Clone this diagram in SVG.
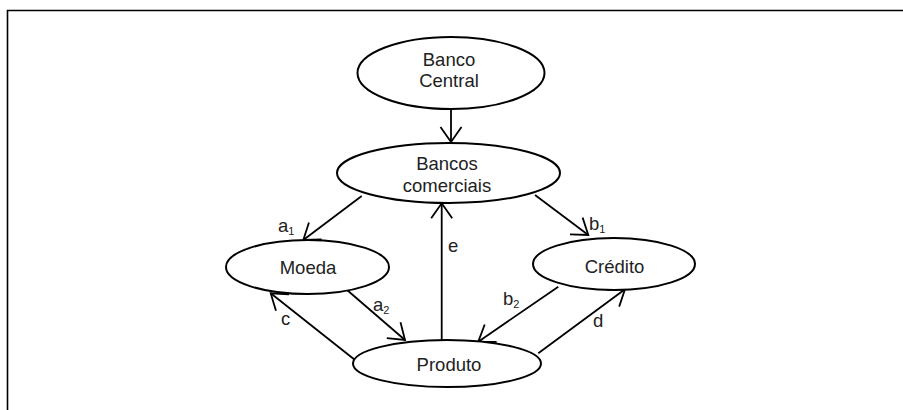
<svg xmlns="http://www.w3.org/2000/svg" width="903" height="410" viewBox="0 0 903 410">
<defs>
<marker id="arr" markerUnits="userSpaceOnUse" orient="auto" markerWidth="30" markerHeight="30" refX="0" refY="0" viewBox="-20 -15 30 30" overflow="visible">
<path d="M-15,-10.5 L0,0 L-15,10.5" fill="none" stroke="#000" stroke-width="1.8"/>
</marker>
<style>
.node ellipse{fill:#fff;stroke:#000;stroke-width:2}
.node text,.lbl{font-family:"Liberation Sans",Arial,sans-serif;font-size:18.5px;fill:#222;text-anchor:middle}
.lbl{text-anchor:start}
.sub{font-size:11px}
.edge{fill:none;stroke:#000;stroke-width:1.8;marker-end:url(#arr)}
</style>
</defs>
<rect width="903" height="410" fill="#fff"/>
<path d="M7.5,410 V10.5 H903" fill="none" stroke="#000" stroke-width="1.6"/>
<g id="connectors">
<path class="edge" d="M451,109 V142"/>
<path class="edge" d="M361.7,196 L303.3,240"/>
<path class="edge" d="M535,195 L588.3,235"/>
<path class="edge" d="M345,288.3 L405,340"/>
<path class="edge" d="M355,360 L270.7,293.3"/>
<path class="edge" d="M441.7,340 V203.3"/>
<path class="edge" d="M558.3,286.7 L478.3,341.7"/>
<path class="edge" d="M538.3,353.3 L625,289.3"/>
</g>
<g id="node-banco-central" class="node">
<ellipse cx="451" cy="73" rx="93.5" ry="36"/>
<text x="449" y="66">Banco</text>
<text x="449" y="87">Central</text>
</g>
<g id="node-bancos-comerciais" class="node">
<ellipse cx="448.5" cy="173" rx="111.5" ry="30"/>
<text x="447" y="170">Bancos</text>
<text x="447" y="191.5">comerciais</text>
</g>
<g id="node-moeda" class="node">
<ellipse cx="307.5" cy="267" rx="81.5" ry="27"/>
<text x="308" y="273.5">Moeda</text>
</g>
<g id="node-credito" class="node">
<ellipse cx="614" cy="264" rx="81" ry="26"/>
<text x="614.5" y="273">Crédito</text>
</g>
<g id="node-produto" class="node">
<ellipse cx="447" cy="363.5" rx="94" ry="23.5"/>
<text x="449" y="370.5">Produto</text>
</g>
<g id="labels">
<text class="lbl" x="278" y="232">a<tspan class="sub" dy="3">1</tspan></text>
<text class="lbl" x="589" y="229.5">b<tspan class="sub" dy="3">1</tspan></text>
<text class="lbl" x="373" y="310.5">a<tspan class="sub" dy="3.5">2</tspan></text>
<text class="lbl" x="281" y="325">c</text>
<text class="lbl" x="448" y="251.5">e</text>
<text class="lbl" x="503" y="305">b<tspan class="sub" dy="3">2</tspan></text>
<text class="lbl" x="593" y="326.5">d</text>
</g>
</svg>
